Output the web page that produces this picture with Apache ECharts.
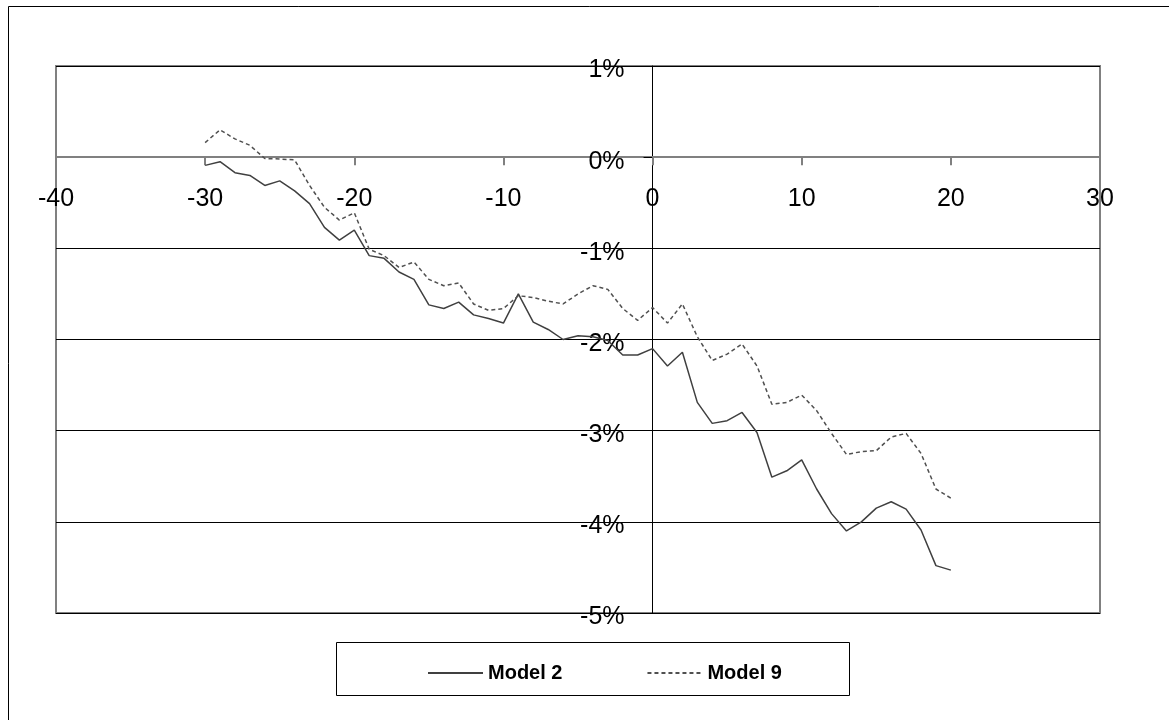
<!DOCTYPE html>
<html>
<head>
<meta charset="utf-8">
<script src="https://cdn.jsdelivr.net/npm/echarts@6/dist/echarts.min.js"></script>
<style>
  html, body { margin: 0; padding: 0; background: #fff; }
  #chart { width: 1169px; height: 720px; }
</style>
</head>
<body>
<div id="chart"></div>
<script>
// x: event time, y: cumulative return (%)
const days = [
  -30, -29, -28, -27, -26, -25, -24, -23, -22, -21, -20, -19, -18, -17, -16, -15, -14,
  -13, -12, -11, -10, -9, -8, -7, -6, -5, -4, -3, -2, -1, 0, 1, 2, 3, 4, 5, 6, 7, 8,
  9, 10, 11, 12, 13, 14, 15, 16, 17, 18, 19, 20,
]
const model2 = [
  -0.09, -0.05, -0.17, -0.2, -0.31, -0.26, -0.37, -0.51, -0.77, -0.91, -0.8, -1.08, -1.11, -1.26, -1.34, -1.62, -1.66,
  -1.59, -1.73, -1.77, -1.82, -1.5, -1.81, -1.89, -2.0, -1.96, -1.97, -2.01, -2.17, -2.17, -2.1, -2.29, -2.14, -2.69, -2.92, -2.89, -2.8, -3.02, -3.51,
  -3.44, -3.32, -3.64, -3.91, -4.1, -4.0, -3.85, -3.78, -3.86, -4.09, -4.48, -4.53,
]
const model9 = [
  0.16, 0.3, 0.2, 0.13, -0.015, -0.02, -0.03, -0.31, -0.55, -0.69, -0.61, -1.01, -1.08, -1.21, -1.15, -1.34, -1.41,
  -1.38, -1.61, -1.68, -1.66, -1.52, -1.54, -1.58, -1.61, -1.5, -1.41, -1.45, -1.66, -1.79, -1.65, -1.82, -1.61, -1.97, -2.23, -2.16, -2.05, -2.29, -2.71,
  -2.69, -2.61, -2.78, -3.03, -3.26, -3.23, -3.22, -3.07, -3.03, -3.25, -3.64, -3.74,
]
const seriesNames = ['Model 2', 'Model 9']

const xMin = -40, xMax = 30
const yMin = -5, yMax = 1

// plot box in pixels
const G = { left: 56, top: 66, right: 1100, bottom: 613 }
// move the axes onto the origin with offsets (labels travel with them)
const xOffset = -((0 - yMin) / (yMax - yMin)) * (G.bottom - G.top)
const yOffset = -((0 - xMin) / (xMax - xMin)) * (G.right - G.left)

const chart = echarts.init(document.getElementById('chart'))
const font = 'Arial, "Liberation Sans", sans-serif'

chart.setOption({
  backgroundColor: '#fff',
  animation: false,
  textStyle: { fontFamily: font },
  graphic: [
    {
      type: 'rect',
      shape: { x: 8.5, y: 6.5, width: 1300, height: 900 },
      style: { fill: 'none', stroke: '#000', lineWidth: 1 },
      z: -10,
    },
    {
      type: 'rect',
      shape: { x: 336.5, y: 642.5, width: 513, height: 53 },
      style: { fill: '#fff', stroke: '#000', lineWidth: 1 },
      z: -5,
    },
  ],
  grid: {
    left: G.left,
    top: G.top,
    right: 1169 - G.right,
    bottom: 720 - G.bottom,
    outerBoundsMode: 'none',
    containLabel: false,
    show: true,
    borderColor: '#808080',
    borderWidth: 2,
  },
  legend: {
    data: seriesNames,
    left: 422,
    top: 658,
    itemWidth: 55,
    itemHeight: 12,
    itemGap: 84,
    itemStyle: { opacity: 0 },
    textStyle: { fontFamily: font, fontSize: 20, fontWeight: 'bold', color: '#000' },
  },
  xAxis: {
    type: 'value',
    min: xMin,
    max: xMax,
    interval: 10,
    offset: xOffset,
    axisLine: { onZero: false, lineStyle: { color: '#808080', width: 2 } },
    axisTick: { show: true, length: 8, lineStyle: { color: '#808080', width: 2 } },
    axisLabel: { fontSize: 25, color: '#000', margin: 29, fontFamily: font },
    splitLine: { show: false },
  },
  yAxis: {
    type: 'value',
    min: yMin,
    max: yMax,
    interval: 1,
    offset: yOffset,
    axisLine: { onZero: false, lineStyle: { color: '#000', width: 1 } },
    axisTick: { show: true, length: 9, lineStyle: { color: '#000', width: 1 } },
    axisLabel: {
      fontSize: 25,
      color: '#000',
      margin: 28,
      verticalAlign: 'top',
      lineHeight: 9,
      fontFamily: font,
      formatter: (v) => v + '%',
    },
    splitLine: { show: true, lineStyle: { color: '#000', width: 1 } },
  },
  series: [
    {
      name: 'Model 2',
      type: 'line',
      data: days.map((d, i) => [d, model2[i]]),
      symbol: 'none',
      lineStyle: { color: '#404040', width: 1.5 },
      itemStyle: { color: '#404040' },
    },
    {
      name: 'Model 9',
      type: 'line',
      data: days.map((d, i) => [d, model9[i]]),
      symbol: 'none',
      lineStyle: { color: '#505050', width: 1.5, type: [4, 3] },
      itemStyle: { color: '#505050' },
    },
  ],
})
</script>
</body>
</html>
